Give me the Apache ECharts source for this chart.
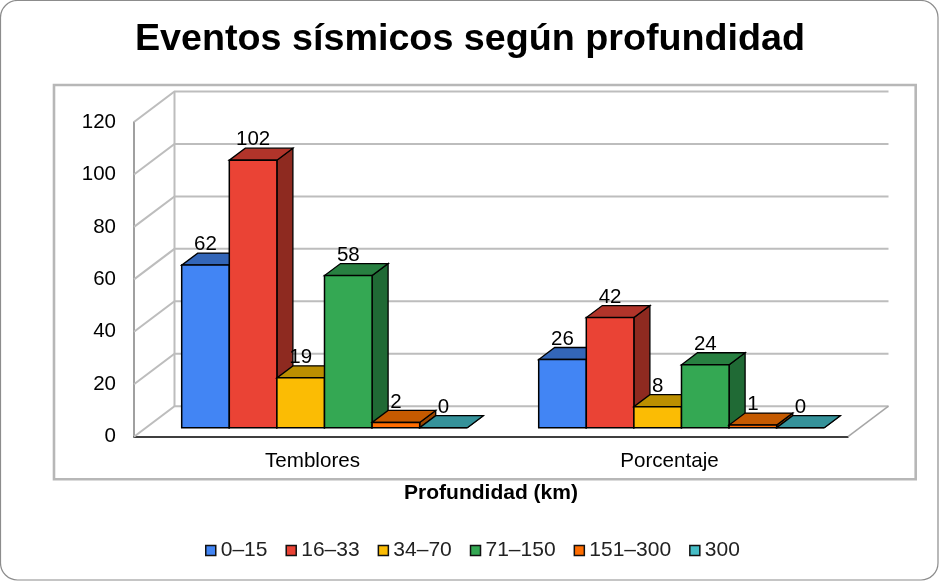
<!DOCTYPE html>
<html><head><meta charset="utf-8">
<style>html,body{margin:0;padding:0;background:#fff}#c{width:939px;height:581px}</style>
<script src="https://cdn.jsdelivr.net/npm/echarts@6/dist/echarts.min.js"></script>
</head><body><div id="c"></div>
<script>
const chartTitle = 'Eventos sísmicos según profundidad';
const axisTitle = 'Profundidad (km)';
const categories = ['Temblores', 'Porcentaje'];
const yTicks = [0, 20, 40, 60, 80, 100, 120];
const seriesNames = ['0–15', '16–33', '34–70', '71–150', '151–300', '300'];
const v0_15 = [62, 26];
const v16_33 = [102, 42];
const v34_70 = [19, 8];
const v71_150 = [58, 24];
const v151_300 = [2, 1];
const v300 = [0, 0];
const seriesValues = [v0_15, v16_33, v34_70, v71_150, v151_300, v300];
const colors = ['#4285f4', '#ea4335', '#fbbc04', '#34a853', '#ff6d01', '#46bdc6'];
const topColors = ['#3366b8', '#b1342a', '#bc8f00', '#288041', '#c55a00', '#35929a'];
const sideColors = ['#295091', '#8e2a20', '#967200', '#206a35', '#9c4700', '#2a747b'];

const FONT = '"Liberation Sans", Arial, sans-serif';
// oblique projection of the 3-D look
const WALL = [40.5, -30.5];
const OFFSET = [12, -9];
const DEPTH = [16, -12];
const BAR_SHARE = 0.8 / seriesNames.length;
const GRID_COLOR = '#bdbdbd';

function poly(points, fill, lw) {
  return { type: 'polygon', shape: { points }, silent: true,
    style: { fill, stroke: '#000', lineWidth: lw, lineJoin: 'miter' } };
}

function wallItem(params, api) {
  const v = api.value(0);
  const left = api.coord([0, v]);
  const band = api.size([1, 0])[0];
  const x0 = left[0] - band / 2, y = left[1];
  const pts = [[x0, y], [x0 + WALL[0], y + WALL[1]], [x0 + 2 * band + WALL[0], y + WALL[1]]];
  const children = [{ type: 'polyline', shape: { points: pts }, silent: true,
    style: { fill: 'none', stroke: GRID_COLOR, lineWidth: 2 } }];
  if (v === 0) {
    // back vertical edge and right floor edge
    const top = api.coord([0, yTicks[yTicks.length - 1]]);
    children.push({ type: 'line', shape: { x1: x0 + WALL[0], y1: y + WALL[1], x2: x0 + WALL[0], y2: top[1] + WALL[1] },
      silent: true, style: { stroke: GRID_COLOR, lineWidth: 2 } });
    children.push({ type: 'line', shape: { x1: x0 + 2 * band, y1: y, x2: x0 + 2 * band + WALL[0], y2: y + WALL[1] },
      silent: true, style: { stroke: '#a6a6a6', lineWidth: 1.5 } });
  }
  return { type: 'group', children };
}

function barItem(idx) {
  return function (params, api) {
    const cat = api.value(0), val = api.value(1);
    const base = api.coord([cat, 0]), top = api.coord([cat, val]);
    const w = api.size([1, 0])[0] * BAR_SHARE;
    const xL = base[0] - w * seriesNames.length / 2 + idx * w + OFFSET[0];
    const xR = xL + w;
    const yB = base[1] + OFFSET[1], yT = top[1] + OFFSET[1];
    const dx = DEPTH[0], dy = DEPTH[1];
    return { type: 'group', children: [
      poly([[xR, yB], [xR + dx, yB + dy], [xR + dx, yT + dy], [xR, yT]], sideColors[idx], 1.3),
      poly([[xL, yT], [xR, yT], [xR + dx, yT + dy], [xL + dx, yT + dy]], topColors[idx], 1.3),
      poly([[xL, yB], [xR, yB], [xR, yT], [xL, yT]], colors[idx], 1.5),
      { type: 'text', silent: true, style: {
          text: String(val), x: xL + w / 2, y: yT + dy - 8.5, align: 'center', verticalAlign: 'middle',
          fill: '#000', fontSize: 20.5, fontFamily: FONT } }
    ] };
  };
}

const series = [{
  type: 'custom', name: 'walls', clip: false, silent: true, z: 1,
  data: yTicks.map(t => [t]), encode: { y: 0 }, renderItem: wallItem
}];
seriesNames.forEach((name, i) => {
  series.push({
    type: 'custom', name, clip: false, silent: true, z: 2 + i,
    itemStyle: { color: colors[i] },
    data: categories.map((c, k) => [k, seriesValues[i][k]]),
    encode: { x: 0, y: 1 }, renderItem: barItem(i)
  });
});

const chart = echarts.init(document.getElementById('c'), null, { renderer: 'canvas' });
chart.setOption({
  animation: false,
  backgroundColor: '#fff',
  textStyle: { fontFamily: FONT },
  title: { text: chartTitle, left: 465, top: 16, textAlign: 'center',
    textStyle: { fontSize: 37.7, fontWeight: 'bold', color: '#000', fontFamily: FONT } },
  grid: { left: 134, top: 122, width: 714, height: 314.7 },
  xAxis: { type: 'category', data: categories,
    axisLine: { lineStyle: { color: '#000', width: 1.5 } }, axisTick: { show: false },
    axisLabel: { color: '#000', fontSize: 20.6, margin: 14, fontFamily: FONT },
    name: axisTitle, nameLocation: 'middle', nameGap: 46,
    nameTextStyle: { fontSize: 21, fontWeight: 'bold', color: '#000', fontFamily: FONT } },
  yAxis: { type: 'value', min: 0, max: 120, interval: 20,
    axisLine: { show: true, lineStyle: { color: '#808080', width: 1.5 } }, axisTick: { show: false },
    splitLine: { show: false },
    axisLabel: { color: '#000', fontSize: 20.5, margin: 18, fontFamily: FONT } },
  legend: { data: seriesNames, left: 200, top: 535, icon: 'rect', itemWidth: 10, itemHeight: 10, itemGap: 18,
    itemStyle: { borderColor: '#111', borderWidth: 1.5 },
    textStyle: { fontSize: 21, color: '#222', fontFamily: FONT } },
  graphic: [
    { type: 'rect', silent: true, z: -1, shape: { x: 0.5, y: 0.5, width: 937.5, height: 579.5, r: 17 },
      style: { fill: 'none', stroke: '#8c8c8c', lineWidth: 1.2 } },
    { type: 'rect', silent: true, z: -1, shape: { x: 54, y: 85, width: 861.7, height: 394.3 },
      style: { fill: 'none', stroke: '#b7b7b7', lineWidth: 2.6 } }
  ],
  series
});
</script></body></html>
